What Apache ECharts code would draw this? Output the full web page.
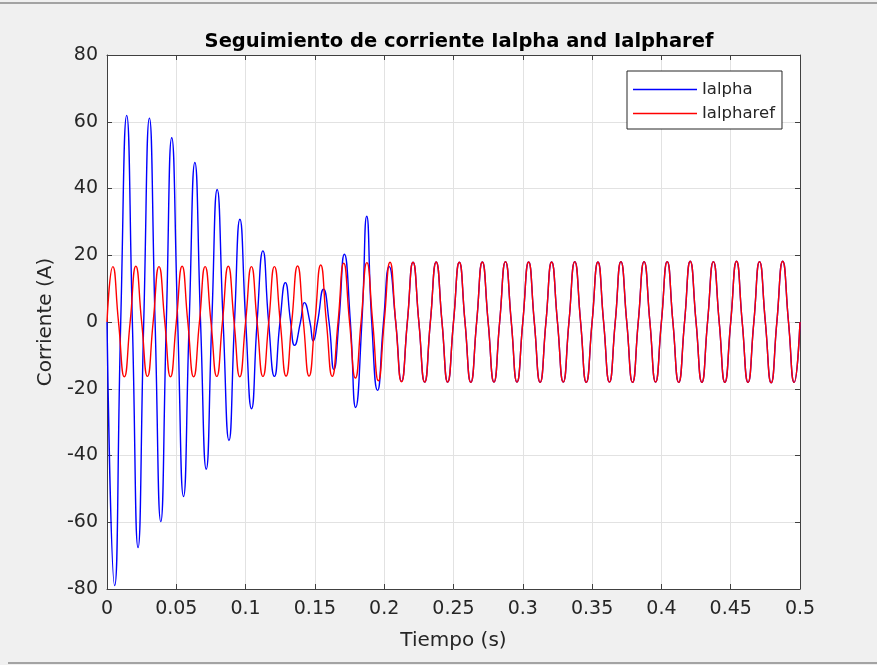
<!DOCTYPE html>
<html>
<head>
<meta charset="utf-8">
<title>Seguimiento de corriente</title>
<script src="https://cdn.jsdelivr.net/npm/echarts@6.0.0/dist/echarts.min.js"></script>
<style>
  html, body {margin: 0; padding: 0; background: #f0f0f0;}
  #main {width: 877px; height: 665px;}
</style>
</head>
<body>
<div id="main"></div>
<script>
// tiempos de los cruces por cero de la referencia (s)
var refZeroT = [
  0, 0.0083, 0.0167, 0.025, 0.0333, 0.0417, 0.05, 0.0583, 0.0667, 0.075, 0.0833, 0.0917,
  0.1, 0.1083, 0.1167, 0.125, 0.1333, 0.1417, 0.15, 0.1583, 0.1667, 0.175, 0.1833, 0.1917,
  0.2, 0.2083, 0.2167, 0.225, 0.2333, 0.2417, 0.25, 0.2583, 0.2667, 0.275, 0.2833, 0.2917,
  0.3, 0.3083, 0.3167, 0.325, 0.3333, 0.3417, 0.35, 0.3583, 0.3667, 0.375, 0.3833, 0.3917,
  0.4, 0.4083, 0.4167, 0.425, 0.4333, 0.4417, 0.45, 0.4583, 0.4667, 0.475, 0.4833, 0.4917, 0.5
];
// tiempos de los picos / valles de la referencia (s)
var refPeakT = [
  0.0042, 0.0125, 0.0208, 0.0292, 0.0375, 0.0458, 0.0542, 0.0625, 0.0708, 0.0792, 0.0875, 0.0958,
  0.1042, 0.1125, 0.1208, 0.1292, 0.1375, 0.1458, 0.1542, 0.1625, 0.1708, 0.1792, 0.1875, 0.1958,
  0.2042, 0.2125, 0.2208, 0.2292, 0.2375, 0.2458, 0.2542, 0.2625, 0.2708, 0.2792, 0.2875, 0.2958,
  0.3042, 0.3125, 0.3208, 0.3292, 0.3375, 0.3458, 0.3542, 0.3625, 0.3708, 0.3792, 0.3875, 0.3958,
  0.4042, 0.4125, 0.4208, 0.4292, 0.4375, 0.4458, 0.4542, 0.4625, 0.4708, 0.4792, 0.4875, 0.4958
];
// valores de los picos / valles de la referencia (A)
var refPeakV = [
  16.6, -16.4, 16.7, -16.3, 16.6, -16.4, 16.7, -16.4, 16.6, -16.3, 16.7, -16.4,
  16.6, -16.3, 16.6, -16.2, 16.8, -16.2, 17.1, -16.3, 17.6, -16.8, 17.8, -17.6,
  17.9, -17.9, 17.9, -18.0, 18.0, -18.0, 17.9, -18.1, 18.0, -18.0, 18.1, -18.0,
  18.0, -18.1, 18.0, -18.0, 18.1, -18.1, 18.0, -18.0, 18.1, -18.1, 18.1, -18.0,
  18.1, -18.1, 18.2, -18.1, 18.1, -18.1, 18.2, -18.1, 18.1, -18.2, 18.2, -18.1
];
// Ialpha medida hasta que se engancha a la referencia: [t, i]
var alphaStart = [
  [0, 0], [0.0055, -79.0], [0.0099, 0], [0.0142, 61.9], [0.0183, 0], [0.0224, -67.6],
  [0.0265, 0], [0.0306, 61.1], [0.0347, 0], [0.0388, -59.8], [0.0428, 0], [0.0467, 55.2],
  [0.051, 0], [0.0552, -52.3], [0.0593, 0], [0.0634, 47.8], [0.0675, 0], [0.0716, -44.1],
  [0.0756, 0], [0.0795, 39.7], [0.0838, 0], [0.088, -35.5], [0.092, 0], [0.0959, 30.8],
  [0.1001, 0], [0.1043, -26.0], [0.1083, 0], [0.1125, 21.3], [0.1166, 0], [0.1208, -16.3],
  [0.1248, 0], [0.1287, 11.8], [0.1325, 0], [0.1353, -7.0], [0.1396, 0], [0.1424, 5.8],
  [0.1464, 0], [0.1488, -5.7], [0.1519, 0], [0.1562, 9.8], [0.1602, 0], [0.1637, -14.2],
  [0.1673, 0], [0.1713, 20.3], [0.1756, 0], [0.1794, -25.6], [0.1839, 0], [0.1874, 31.7],
  [0.191, 0], [0.1952, -20.5], [0.1995, 0], [0.2036, 16.6], [0.2083, 0], [0.2125, -17.8]
];
var xTicks = {min: 0, max: 0.5, step: 0.05};
var yTicks = {min: -80, max: 80, step: 20};

// armar la referencia: cruces y picos ordenados
var refData = [];
for (var i = 0; i < refZeroT.length; i++) {
  refData.push([refZeroT[i], 0]);
  if (i < refPeakT.length) {
    refData.push([refPeakT[i], refPeakV[i]]);
  }
}
// despues de 0.21 s Ialpha sigue a la referencia
var alphaData = alphaStart.slice();
for (var j = 0; j < refData.length; j++) {
  if (refData[j][0] > 0.214) {
    alphaData.push(refData[j]);
  }
}

var axisColor = '#262626';
var gridColor = '#e2e2e2';
var font = 'DejaVu Sans, Arial, sans-serif';

function boxAxis(pos, ticks, showLabel) {
  return {
    type: 'value',
    position: pos,
    min: ticks.min,
    max: ticks.max,
    interval: ticks.step,
    axisLine: {show: true, onZero: false, lineStyle: {color: '#404040', width: 1}},
    axisTick: {show: true, inside: true, length: 5, lineStyle: {color: '#404040'}},
    axisLabel: {show: showLabel, color: axisColor, fontSize: 19, fontFamily: font,
      margin: pos === 'bottom' ? 11 : 9,
      formatter: function (v) { return String(parseFloat(v.toFixed(2))); }},
    splitLine: {show: showLabel, lineStyle: {color: gridColor, width: 1}}
  };
}

var xBottom = boxAxis('bottom', xTicks, true);
xBottom.name = 'Tiempo (s)';
xBottom.nameLocation = 'middle';
xBottom.nameGap = 42;
xBottom.nameTextStyle = {color: axisColor, fontSize: 20, fontFamily: font};
var yLeft = boxAxis('left', yTicks, true);
yLeft.name = 'Corriente (A)';
yLeft.nameLocation = 'middle';
yLeft.nameGap = 51;
yLeft.nameTextStyle = {color: axisColor, fontSize: 20, fontFamily: font};

var chart = echarts.init(document.getElementById('main'));
chart.setOption({
  backgroundColor: '#f0f0f0',
  animation: false,
  title: {
    text: 'Seguimiento de corriente Ialpha and Ialpharef',
    left: 454,
    top: 27,
    textAlign: 'center',
    textStyle: {color: '#000', fontSize: 19.5, fontWeight: 'bold', fontFamily: font}
  },
  legend: {
    orient: 'vertical',
    left: 627,
    top: 71,
    padding: [10, 7, 7, 6],
    itemGap: 7,
    itemWidth: 64,
    itemHeight: 1.5,
    icon: 'rect',
    backgroundColor: '#fff',
    borderColor: '#262626',
    borderWidth: 1,
    borderRadius: 0,
    textStyle: {color: axisColor, fontSize: 16.5, fontFamily: font},
    data: ['Ialpha', 'Ialpharef']
  },
  grid: {left: 107, right: 77, top: 55, bottom: 76, containLabel: false,
    show: true, backgroundColor: '#fff', borderWidth: 0},
  xAxis: [xBottom, boxAxis('top', xTicks, false)],
  yAxis: [yLeft, boxAxis('right', yTicks, false)],
  graphic: [
    {type: 'line', shape: {x1: 0, y1: 3, x2: 877, y2: 3}, style: {stroke: '#a3a3a3', lineWidth: 2}},
    {type: 'line', shape: {x1: 8, y1: 663, x2: 877, y2: 663}, style: {stroke: '#a3a3a3', lineWidth: 2}}
  ],
  series: [
    {
      name: 'Ialpha',
      type: 'line',
      data: alphaData,
      smooth: 0.55,
      symbol: 'none',
      lineStyle: {color: '#0000ff', width: 1.4},
      itemStyle: {color: '#0000ff'}
    },
    {
      name: 'Ialpharef',
      type: 'line',
      data: refData,
      smooth: 0.55,
      symbol: 'none',
      lineStyle: {color: '#ff0000', width: 1.4},
      itemStyle: {color: '#ff0000'}
    }
  ]
});
</script>
</body>
</html>
